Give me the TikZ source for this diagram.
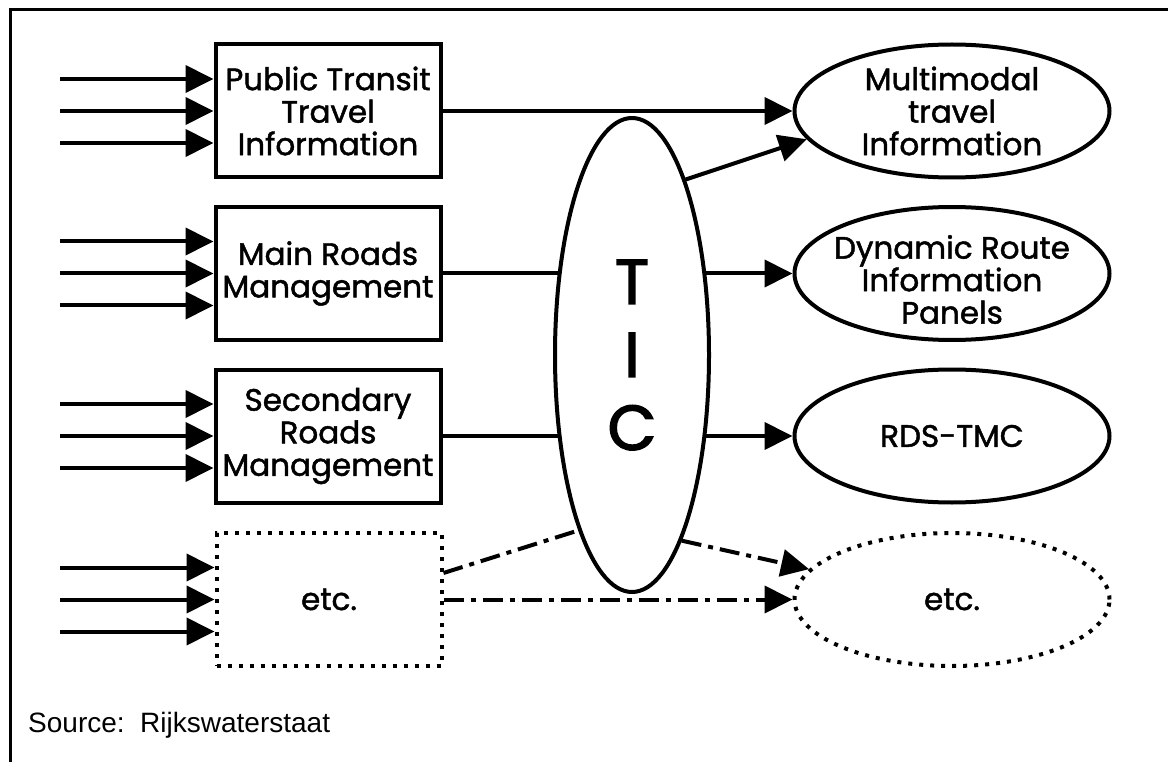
\documentclass[tikz,border=0pt]{standalone}
\usepackage{fontspec}
\newfontfamily\pop{Poppins}[FakeBold=1.5]
\newfontfamily\popt{Poppins}[FakeBold=2.5]
\newfontfamily\arialf{Liberation Sans}
\usetikzlibrary{arrows.meta,shapes.geometric}
\begin{document}
\begin{tikzpicture}[x=1pt,y=-1pt,
  boxn/.style={draw,line width=4pt,minimum width=225pt,minimum height=133pt,inner sep=0pt,align=center,font=\pop\fontsize{31}{32.5}\selectfont},
  dotbox/.style={boxn,dash pattern=on 4pt off 7pt},
  elln/.style={draw,ellipse,line width=4pt,minimum width=315pt,minimum height=133pt,inner sep=0pt},
  elltext/.style={align=center,font=\pop\fontsize{31}{32.5}\selectfont},
  ticn/.style={draw,ellipse,line width=4pt,minimum width=154pt,minimum height=474pt,inner sep=0pt,align=center,font=\popt\fontsize{63}{73}\selectfont},
  arr/.style={line width=4pt,-{Triangle[length=28pt,width=27pt]}},
  ln/.style={line width=4pt},
  dd/.style={line width=4pt,dash pattern=on 20pt off 7pt on 5pt off 7pt},
  dda/.style={dd,-{Triangle[length=28pt,width=27pt]}},
]
\useasboundingbox (0,0) rectangle (1168,762);
\draw[line width=3pt] (10,762) -- (10,10) -- (1168,10);

% left boxes
\node[boxn] (b1) at (328,111) {Public Transit\\Travel\\Information};
\node[boxn] (b2) at (328,273.5) {Main Roads\\Management};
\node[boxn] (b3) at (328,436) {Secondary\\Roads\\Management};
\node[dotbox] (b4) at (329,599.5) {etc.};

% input arrows
\foreach \b in {b1,b2,b3,b4}{
  \foreach \d in {-32,0,32}{
    \coordinate (s\b\d) at ([yshift=\d pt]\b.west -| 60,0);
    \draw[arr] (s\b\d) -- ([yshift=\d pt]\b.west);
  }
}

% TIC
\node[ticn] (tic) at (632,355) {T\\I\\C};

% right ellipses
\node[elln,label={[elltext]center:Multimodal\\travel\\Information}] (e1) at (952,111) {};
\node[elln,label={[elltext,yshift=-6pt]center:Dynamic Route\\Information\\Panels}] (e2) at (952,273.5) {};
\node[elln,label={[elltext]center:RDS-TMC}] (e3) at (952,436) {};
\node[elln,dash pattern=on 4pt off 7pt,label={[elltext]center:etc.}] (e4) at (952,599.5) {};

% connectors
\draw[arr] (b1.east) -- (e1.west);
\draw[arr] (tic.73) -- (e1.191);
\draw[ln] (b2.east) -- (b2.east -| tic.131.6);
\draw[arr] (b2.east -| tic.48.4) -- (e2.west);
\draw[ln] (b3.east) -- (b3.east -| tic.228.2);
\draw[arr] (b3.east -| tic.311.8) -- (e3.west);
\draw[dd] ([yshift=26.5pt]b4.east) -- (tic.253);
\draw[dda] (b4.east) -- (e4.west);
\draw[dda] (tic.285.7) -- (e4.168.5);

\node[anchor=base west,inner sep=0pt,font=\arialf\fontsize{28}{30}\selectfont] (src) at (28,732) {Source:\ \ Rijkswaterstaat};
\end{tikzpicture}
\end{document}
